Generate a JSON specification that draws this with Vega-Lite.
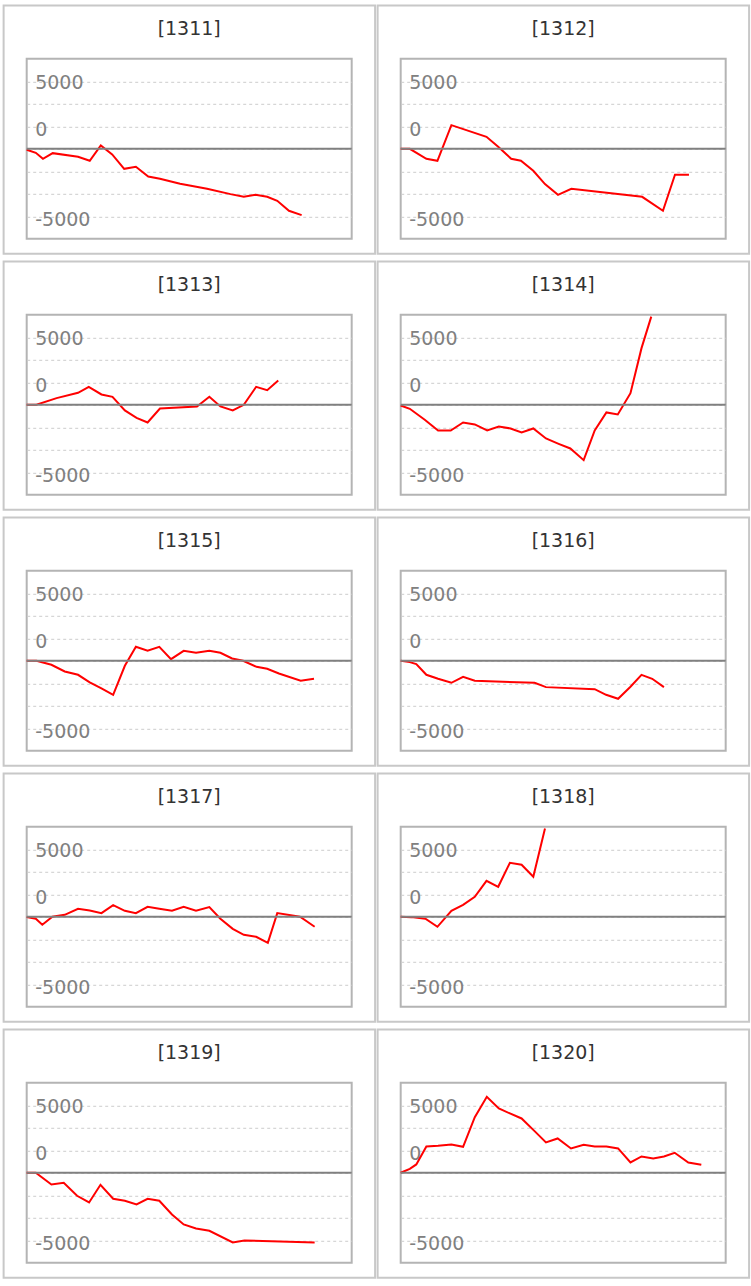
{
  "$schema": "https://vega.github.io/schema/vega-lite/v6.json",
  "padding": {"left": 0.7, "top": 2.8, "right": 0, "bottom": 0},
  "config": {
    "font": "DejaVu Sans",
    "view": {"stroke": "#b4b4b4", "strokeWidth": 2},
    "header": {"labels": false, "title": null, "labelFontSize": 0, "labelPadding": 0},
    "headerFacet": {"labels": false, "title": null, "labelFontSize": 0, "labelPadding": 0}
  },
  "data": {
    "values": [
      {"id": "[1311]", "t": 0, "v": -111}, {"id": "[1311]", "t": 2.8, "v": -444}, {"id": "[1311]", "t": 5.0, "v": -1111},
      {"id": "[1311]", "t": 8.0, "v": -481}, {"id": "[1311]", "t": 15.8, "v": -889}, {"id": "[1311]", "t": 19.4, "v": -1333},
      {"id": "[1311]", "t": 22.8, "v": 370}, {"id": "[1311]", "t": 26.3, "v": -630}, {"id": "[1311]", "t": 30.0, "v": -2222},
      {"id": "[1311]", "t": 33.6, "v": -2000}, {"id": "[1311]", "t": 37.4, "v": -3074}, {"id": "[1311]", "t": 41.0, "v": -3333},
      {"id": "[1311]", "t": 47.2, "v": -3889}, {"id": "[1311]", "t": 55.5, "v": -4444}, {"id": "[1311]", "t": 62.7, "v": -5037},
      {"id": "[1311]", "t": 66.8, "v": -5333}, {"id": "[1311]", "t": 70.4, "v": -5111}, {"id": "[1311]", "t": 74.0, "v": -5333},
      {"id": "[1311]", "t": 77.1, "v": -5778}, {"id": "[1311]", "t": 80.7, "v": -6889}, {"id": "[1311]", "t": 84.6, "v": -7370},

      {"id": "[1312]", "t": 0, "v": 0}, {"id": "[1312]", "t": 2.8, "v": 0}, {"id": "[1312]", "t": 7.9, "v": -1111},
      {"id": "[1312]", "t": 11.3, "v": -1333}, {"id": "[1312]", "t": 15.6, "v": 2630}, {"id": "[1312]", "t": 26.4, "v": 1333},
      {"id": "[1312]", "t": 30.0, "v": 222}, {"id": "[1312]", "t": 34.0, "v": -1111}, {"id": "[1312]", "t": 37.0, "v": -1333},
      {"id": "[1312]", "t": 40.8, "v": -2444}, {"id": "[1312]", "t": 44.4, "v": -3926}, {"id": "[1312]", "t": 48.4, "v": -5111},
      {"id": "[1312]", "t": 52.5, "v": -4444}, {"id": "[1312]", "t": 74.3, "v": -5333}, {"id": "[1312]", "t": 80.7, "v": -6889},
      {"id": "[1312]", "t": 84.4, "v": -2889}, {"id": "[1312]", "t": 88.7, "v": -2889},

      {"id": "[1313]", "t": 0, "v": 0}, {"id": "[1313]", "t": 3.0, "v": 0}, {"id": "[1313]", "t": 9.2, "v": 741},
      {"id": "[1313]", "t": 15.8, "v": 1333}, {"id": "[1313]", "t": 19.1, "v": 2000}, {"id": "[1313]", "t": 23.0, "v": 1148},
      {"id": "[1313]", "t": 26.4, "v": 889}, {"id": "[1313]", "t": 30.2, "v": -630}, {"id": "[1313]", "t": 33.8, "v": -1444},
      {"id": "[1313]", "t": 37.2, "v": -1963}, {"id": "[1313]", "t": 41.0, "v": -407}, {"id": "[1313]", "t": 52.4, "v": -185},
      {"id": "[1313]", "t": 56.2, "v": 889}, {"id": "[1313]", "t": 59.6, "v": -185}, {"id": "[1313]", "t": 63.4, "v": -630},
      {"id": "[1313]", "t": 66.8, "v": 0}, {"id": "[1313]", "t": 70.6, "v": 2000}, {"id": "[1313]", "t": 74.0, "v": 1630},
      {"id": "[1313]", "t": 77.4, "v": 2704},

      {"id": "[1314]", "t": 0, "v": -74}, {"id": "[1314]", "t": 2.8, "v": -444}, {"id": "[1314]", "t": 7.4, "v": -1667},
      {"id": "[1314]", "t": 11.5, "v": -2852}, {"id": "[1314]", "t": 15.4, "v": -2852}, {"id": "[1314]", "t": 19.2, "v": -1963},
      {"id": "[1314]", "t": 22.8, "v": -2185}, {"id": "[1314]", "t": 26.6, "v": -2852}, {"id": "[1314]", "t": 30.2, "v": -2407},
      {"id": "[1314]", "t": 33.8, "v": -2630}, {"id": "[1314]", "t": 37.2, "v": -3074}, {"id": "[1314]", "t": 40.8, "v": -2630},
      {"id": "[1314]", "t": 44.7, "v": -3741}, {"id": "[1314]", "t": 48.6, "v": -4333}, {"id": "[1314]", "t": 52.2, "v": -4852},
      {"id": "[1314]", "t": 56.3, "v": -6148}, {"id": "[1314]", "t": 59.7, "v": -2852}, {"id": "[1314]", "t": 63.3, "v": -852},
      {"id": "[1314]", "t": 66.8, "v": -1074}, {"id": "[1314]", "t": 70.7, "v": 1296}, {"id": "[1314]", "t": 74.1, "v": 6296},
      {"id": "[1314]", "t": 77.1, "v": 9800},

      {"id": "[1315]", "t": 0, "v": 0}, {"id": "[1315]", "t": 3.0, "v": 0}, {"id": "[1315]", "t": 7.6, "v": -444},
      {"id": "[1315]", "t": 11.7, "v": -1185}, {"id": "[1315]", "t": 15.8, "v": -1556}, {"id": "[1315]", "t": 19.4, "v": -2407},
      {"id": "[1315]", "t": 23.0, "v": -3074}, {"id": "[1315]", "t": 26.6, "v": -3778}, {"id": "[1315]", "t": 30.2, "v": -556},
      {"id": "[1315]", "t": 33.6, "v": 1556}, {"id": "[1315]", "t": 37.2, "v": 1111}, {"id": "[1315]", "t": 40.8, "v": 1556},
      {"id": "[1315]", "t": 44.4, "v": 185}, {"id": "[1315]", "t": 48.3, "v": 1111}, {"id": "[1315]", "t": 52.1, "v": 889},
      {"id": "[1315]", "t": 56.2, "v": 1111}, {"id": "[1315]", "t": 59.6, "v": 889}, {"id": "[1315]", "t": 63.2, "v": 259},
      {"id": "[1315]", "t": 66.6, "v": 0}, {"id": "[1315]", "t": 70.7, "v": -667}, {"id": "[1315]", "t": 74.0, "v": -889},
      {"id": "[1315]", "t": 77.6, "v": -1407}, {"id": "[1315]", "t": 84.3, "v": -2222}, {"id": "[1315]", "t": 88.4, "v": -2000},

      {"id": "[1316]", "t": 0, "v": 0}, {"id": "[1316]", "t": 2.8, "v": -148}, {"id": "[1316]", "t": 4.8, "v": -370},
      {"id": "[1316]", "t": 7.9, "v": -1556}, {"id": "[1316]", "t": 11.5, "v": -2000}, {"id": "[1316]", "t": 15.6, "v": -2444},
      {"id": "[1316]", "t": 19.2, "v": -1778}, {"id": "[1316]", "t": 22.8, "v": -2222}, {"id": "[1316]", "t": 41.2, "v": -2444},
      {"id": "[1316]", "t": 44.7, "v": -2926}, {"id": "[1316]", "t": 59.7, "v": -3148}, {"id": "[1316]", "t": 63.2, "v": -3778},
      {"id": "[1316]", "t": 66.9, "v": -4222}, {"id": "[1316]", "t": 70.7, "v": -2889}, {"id": "[1316]", "t": 74.1, "v": -1556},
      {"id": "[1316]", "t": 77.4, "v": -2000}, {"id": "[1316]", "t": 81.0, "v": -2926},

      {"id": "[1317]", "t": 0, "v": -37}, {"id": "[1317]", "t": 2.8, "v": -222}, {"id": "[1317]", "t": 4.8, "v": -889},
      {"id": "[1317]", "t": 7.9, "v": 0}, {"id": "[1317]", "t": 11.7, "v": 222}, {"id": "[1317]", "t": 15.8, "v": 889},
      {"id": "[1317]", "t": 19.4, "v": 704}, {"id": "[1317]", "t": 23.0, "v": 407}, {"id": "[1317]", "t": 26.6, "v": 1296},
      {"id": "[1317]", "t": 30.2, "v": 667}, {"id": "[1317]", "t": 33.6, "v": 407}, {"id": "[1317]", "t": 37.2, "v": 1111},
      {"id": "[1317]", "t": 40.8, "v": 889}, {"id": "[1317]", "t": 44.7, "v": 667}, {"id": "[1317]", "t": 48.3, "v": 1111},
      {"id": "[1317]", "t": 52.1, "v": 667}, {"id": "[1317]", "t": 56.2, "v": 1074}, {"id": "[1317]", "t": 59.6, "v": -222},
      {"id": "[1317]", "t": 63.4, "v": -1333}, {"id": "[1317]", "t": 66.8, "v": -2000}, {"id": "[1317]", "t": 70.6, "v": -2222},
      {"id": "[1317]", "t": 74.2, "v": -2889}, {"id": "[1317]", "t": 77.1, "v": 407}, {"id": "[1317]", "t": 84.1, "v": 0},
      {"id": "[1317]", "t": 88.6, "v": -1111},

      {"id": "[1318]", "t": 0, "v": 0}, {"id": "[1318]", "t": 3.3, "v": -37}, {"id": "[1318]", "t": 7.6, "v": -222},
      {"id": "[1318]", "t": 11.3, "v": -1111}, {"id": "[1318]", "t": 15.6, "v": 667}, {"id": "[1318]", "t": 19.2, "v": 1333},
      {"id": "[1318]", "t": 22.8, "v": 2222}, {"id": "[1318]", "t": 26.4, "v": 4000}, {"id": "[1318]", "t": 30.0, "v": 3333},
      {"id": "[1318]", "t": 33.6, "v": 6000}, {"id": "[1318]", "t": 37.2, "v": 5778}, {"id": "[1318]", "t": 40.8, "v": 4444},
      {"id": "[1318]", "t": 44.4, "v": 9800},

      {"id": "[1319]", "t": 0, "v": 0}, {"id": "[1319]", "t": 2.8, "v": 0}, {"id": "[1319]", "t": 7.6, "v": -1296},
      {"id": "[1319]", "t": 11.4, "v": -1111}, {"id": "[1319]", "t": 15.5, "v": -2556}, {"id": "[1319]", "t": 19.2, "v": -3296},
      {"id": "[1319]", "t": 22.7, "v": -1333}, {"id": "[1319]", "t": 26.6, "v": -2889}, {"id": "[1319]", "t": 30.2, "v": -3111},
      {"id": "[1319]", "t": 33.8, "v": -3519}, {"id": "[1319]", "t": 37.2, "v": -2889}, {"id": "[1319]", "t": 40.8, "v": -3111},
      {"id": "[1319]", "t": 44.7, "v": -4630}, {"id": "[1319]", "t": 48.3, "v": -5741}, {"id": "[1319]", "t": 52.1, "v": -6185},
      {"id": "[1319]", "t": 56.2, "v": -6444}, {"id": "[1319]", "t": 63.4, "v": -7741}, {"id": "[1319]", "t": 67.0, "v": -7519},
      {"id": "[1319]", "t": 88.6, "v": -7741},

      {"id": "[1320]", "t": 0, "v": 0}, {"id": "[1320]", "t": 2.8, "v": 444}, {"id": "[1320]", "t": 4.8, "v": 926},
      {"id": "[1320]", "t": 7.9, "v": 2926}, {"id": "[1320]", "t": 11.5, "v": 3000}, {"id": "[1320]", "t": 15.6, "v": 3148},
      {"id": "[1320]", "t": 19.2, "v": 2889}, {"id": "[1320]", "t": 22.8, "v": 6185}, {"id": "[1320]", "t": 26.5, "v": 8444},
      {"id": "[1320]", "t": 30.2, "v": 7148}, {"id": "[1320]", "t": 33.6, "v": 6593}, {"id": "[1320]", "t": 37.2, "v": 6037},
      {"id": "[1320]", "t": 41.2, "v": 4630}, {"id": "[1320]", "t": 44.7, "v": 3370}, {"id": "[1320]", "t": 48.3, "v": 3815},
      {"id": "[1320]", "t": 52.4, "v": 2704}, {"id": "[1320]", "t": 56.3, "v": 3111}, {"id": "[1320]", "t": 59.7, "v": 2926},
      {"id": "[1320]", "t": 63.3, "v": 2926}, {"id": "[1320]", "t": 66.9, "v": 2704}, {"id": "[1320]", "t": 70.7, "v": 1148},
      {"id": "[1320]", "t": 74.1, "v": 1815}, {"id": "[1320]", "t": 77.7, "v": 1593}, {"id": "[1320]", "t": 81.0, "v": 1815},
      {"id": "[1320]", "t": 84.3, "v": 2222}, {"id": "[1320]", "t": 88.5, "v": 1148}, {"id": "[1320]", "t": 92.5, "v": 889}
    ]
  },
  "facet": {"field": "id", "type": "nominal", "title": null, "header": {"labels": false, "title": null, "labelFontSize": 0, "labelPadding": 0}},
  "columns": 2,
  "spacing": {"row": 76, "column": 49},
  "bounds": "flush",
  "resolve": {"axis": {"y": "independent"}},
  "spec": {
    "width": 325,
    "height": 180,
    "layer": [
      {
        "transform": [{"filter": "datum.t == 0"}],
        "mark": {"type": "rect", "filled": false, "stroke": "#c8c8c8", "strokeWidth": 2},
        "encoding": {
          "x": {"datum": -7.1, "type": "quantitative", "scale": {"domain": [0, 100], "nice": false, "zero": false}, "axis": null},
          "x2": {"datum": 107.2},
          "y": {
            "datum": 15920, "type": "quantitative", "title": null,
            "scale": {"domain": [-10000, 10000], "nice": false, "zero": false},
            "axis": {
              "title": null, "values": [-7500, -5000, -2500, 0, 2500, 5000, 7500],
              "labelExpr": "datum.value == 7500 ? '5000' : datum.value == 2500 ? '0' : datum.value == -7500 ? '-5000' : ''",
              "domain": false, "ticks": false, "labelAlign": "left", "labelBaseline": "middle", "labelPadding": -8,
              "labelOffset": {"condition": {"test": "datum.value == 7500", "value": 1}, "value": 3.5},
              "labelFont": "DejaVu Sans", "labelFontSize": 19, "labelColor": "#808080", "labelOverlap": false,
              "grid": true, "gridColor": "#cccccc", "gridDash": [3, 3], "gridWidth": 1
            }
          },
          "y2": {"datum": -11667}
        }
      },
      {
        "mark": {"type": "line", "color": "#ff0000", "strokeWidth": 2},
        "encoding": {
          "x": {"field": "t", "type": "quantitative", "scale": {"domain": [0, 100], "nice": false, "zero": false}, "axis": null},
          "y": {
            "field": "v", "type": "quantitative", "title": null,
            "scale": {"domain": [-10000, 10000], "nice": false, "zero": false},
            "axis": {
              "title": null, "values": [-7500, -5000, -2500, 0, 2500, 5000, 7500],
              "labelExpr": "datum.value == 7500 ? '5000' : datum.value == 2500 ? '0' : datum.value == -7500 ? '-5000' : ''",
              "domain": false, "ticks": false, "labelAlign": "left", "labelBaseline": "middle", "labelPadding": -8,
              "labelOffset": {"condition": {"test": "datum.value == 7500", "value": 1}, "value": 3.5},
              "labelFont": "DejaVu Sans", "labelFontSize": 19, "labelColor": "#808080", "labelOverlap": false,
              "grid": true, "gridColor": "#cccccc", "gridDash": [3, 3], "gridWidth": 1
            }
          }
        }
      },
      {
        "transform": [{"filter": "datum.t == 0"}],
        "mark": {"type": "rule", "color": "#808080", "strokeWidth": 2},
        "encoding": {
          "y": {
            "datum": 0, "type": "quantitative", "title": null,
            "axis": {
              "title": null, "values": [-7500, -5000, -2500, 0, 2500, 5000, 7500],
              "labelExpr": "datum.value == 7500 ? '5000' : datum.value == 2500 ? '0' : datum.value == -7500 ? '-5000' : ''",
              "domain": false, "ticks": false, "labelAlign": "left", "labelBaseline": "middle", "labelPadding": -8,
              "labelOffset": {"condition": {"test": "datum.value == 7500", "value": 1}, "value": 3.5},
              "labelFont": "DejaVu Sans", "labelFontSize": 19, "labelColor": "#808080", "labelOverlap": false,
              "grid": true, "gridColor": "#cccccc", "gridDash": [3, 3], "gridWidth": 1
            }
          }
        }
      },
      {
        "transform": [{"filter": "datum.t == 0"}],
        "mark": {"type": "text", "font": "DejaVu Sans", "fontSize": 19, "color": "#333333", "align": "center", "baseline": "middle"},
        "encoding": {
          "x": {"datum": 50, "type": "quantitative", "axis": null},
          "y": {
            "datum": 13280, "type": "quantitative", "title": null,
            "axis": {
              "title": null, "values": [-7500, -5000, -2500, 0, 2500, 5000, 7500],
              "labelExpr": "datum.value == 7500 ? '5000' : datum.value == 2500 ? '0' : datum.value == -7500 ? '-5000' : ''",
              "domain": false, "ticks": false, "labelAlign": "left", "labelBaseline": "middle", "labelPadding": -8,
              "labelOffset": {"condition": {"test": "datum.value == 7500", "value": 1}, "value": 3.5},
              "labelFont": "DejaVu Sans", "labelFontSize": 19, "labelColor": "#808080", "labelOverlap": false,
              "grid": true, "gridColor": "#cccccc", "gridDash": [3, 3], "gridWidth": 1
            }
          },
          "text": {"field": "id"}
        }
      }
    ]
  }
}
